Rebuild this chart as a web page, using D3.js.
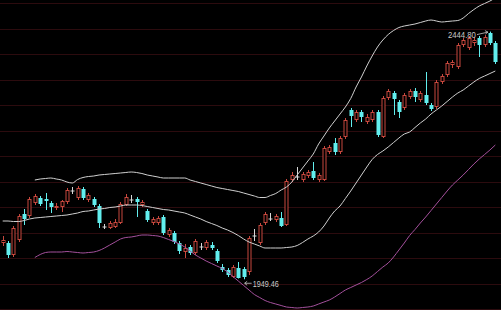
<!DOCTYPE html>
<html>
<head>
<meta charset="utf-8">
<style>
  html, body { margin: 0; padding: 0; background: #000; }
  svg { display: block; }
</style>
</head>
<body>
<svg id="chart" width="501" height="310"></svg>
<script src="https://d3js.org/d3.v7.min.js"></script>
<script>
// daily candles
var open = [2022,2022,1998,2028,2080,2076,2102,2112,2110,2102,
            2092,2094,2104,2127,2112,2130,2108,2110,2096,2055,
            2052,2054,2062,2098,2109,2110,2098,2086,2062,2062,
            2074,2038,2042,2022,2004,2014,2002,2015,2012,2018,
            2006,1974,1968,1954,1972,1970,1964,2037,2022,2062,
            2071,2068,2072,2058,2148,2155,2148,2156,2166,2148,
            2148,2204,2222,2204,2234,2288,2268,2284,2264,2268,
            2284,2234,2312,2322,2304,2292,2314,2326,2308,2318,
            2298,2294,2344,2358,2378,2374,2418,2412,2422,2432,
            2418,2442,2422];
var close = [2028,1998,2052,2076,2070,2110,2116,2100,2106,2094,
             2096,2106,2128,2127,2132,2112,2118,2098,2062,2055,
             2062,2064,2100,2114,2109,2104,2104,2068,2070,2072,
             2042,2048,2024,2006,2012,2002,2026,2015,2024,2012,
             1986,1968,1958,1974,1952,1954,2032,2037,2058,2080,
             2071,2076,2056,2146,2158,2155,2160,2164,2152,2158,
             2212,2214,2204,2232,2268,2276,2284,2274,2274,2284,
             2238,2312,2326,2310,2284,2318,2326,2314,2322,2302,
             2290,2344,2356,2382,2384,2418,2428,2432,2428,2418,
             2434,2422,2384];
var high = [2036,2026,2056,2080,2090,2114,2120,2116,2122,2106,
            2102,2108,2132,2134,2136,2134,2122,2114,2100,2060,
            2066,2070,2104,2120,2118,2114,2108,2090,2074,2076,
            2078,2052,2046,2026,2020,2018,2030,2022,2028,2024,
            2010,1980,1972,1978,1984,1974,2036,2050,2062,2084,
            2082,2080,2084,2150,2164,2174,2164,2168,2184,2162,
            2216,2218,2232,2236,2272,2292,2288,2288,2280,2288,
            2288,2316,2330,2326,2308,2322,2330,2332,2326,2364,
            2302,2348,2360,2386,2388,2422,2432,2436,2434,2436,
            2438,2444.80,2426];
var low = [2016,1992,1994,2024,2058,2072,2098,2096,2088,2082,
           2088,2084,2100,2120,2108,2108,2104,2094,2052,2050,
           2050,2052,2060,2096,2102,2074,2094,2064,2058,2058,
           2038,2034,2020,2000,1992,1998,1998,2008,2008,2008,
           1982,1964,1954,1952,1951,1949.46,1958,2026,2018,2058,
           2066,2064,2054,2056,2144,2148,2144,2152,2148,2144,
           2146,2200,2198,2200,2230,2254,2264,2264,2260,2264,
           2234,2232,2308,2278,2272,2288,2310,2304,2304,2298,
           2286,2290,2340,2354,2372,2370,2414,2408,2416,2394,
           2414,2418,2380];

// bollinger bands
var upper = [null,null,null,null,null,null,2148,2150,2151,2152,
             2150,2148,2144,2142,2149,2153,2155,2156,2158,2159,
             2160,2161,2162,2163,2164,2163,2161,2158,2156,2154,
             2152,2152,2152,2152,2152,2148,2145,2142,2139,2136,
             2133,2131,2129,2127,2125,2122,2119,2116,2113,2113,
             2117,2121,2128,2134,2144,2158,2172,2186,2200,2220,
             2236,2252,2266,2280,2294,2311,2334,2354,2376,2396,
             2414,2428,2439,2447,2453,2456,2458,2460,2463,2466,
             2468,2466,2464,2465,2466,2467,2472,2481,2489,2496,
             2501,2506,2512];
var mid = [2066,2066,2065,2065,2067,2070,2072,2073,2074,2075,
           2076,2077,2078,2080,2082,2085,2086,2088,2090,2091,
           2093,2094,2096,2098,2098,2098,2097,2095,2093,2091,
           2089,2088,2086,2084,2082,2078,2074,2070,2065,2061,
           2057,2052,2048,2043,2037,2030,2024,2020,2016,2012,
           2012,2012,2012,2013,2014,2017,2023,2030,2036,2044,
           2056,2072,2086,2096,2111,2126,2142,2158,2174,2189,
           2199,2206,2214,2223,2232,2240,2244,2253,2262,2270,
           2280,2288,2296,2305,2314,2322,2328,2336,2344,2351,
           2356,2361,2366];
var lower = [null,null,null,null,null,null,1993,1999,2003,2004,
             2004,2004,2005,2004,2003,2002,2003,2004,2007,2012,
             2018,2024,2030,2033,2034,2036,2038,2038,2037,2036,
             2033,2029,2025,2020,2014,2006,1998,1992,1986,1981,
             1976,1971,1964,1955,1946,1937,1928,1919,1913,1907,
             1903,1900,1897,1894,1893,1892,1893,1894,1896,1900,
             1904,1908,1914,1921,1928,1933,1938,1943,1949,1956,
             1965,1974,1982,1994,2008,2022,2037,2049,2062,2074,
             2087,2100,2113,2126,2138,2148,2158,2169,2180,2190,
             2199,2208,2218];

var W = 501, H = 310;
var svg = d3.select("#chart");
svg.append("rect").attr("width", W).attr("height", H).attr("fill", "#000");

var days = d3.range(open.length);
var x = d3.scaleLinear().domain([0, days.length - 1]).range([2.7, 495.3]);
var y = d3.scaleLinear().domain([2508, 1888]).range([0, H]);

// horizontal grid, faint dark red
var gridRows = d3.range(13);
svg.append("g").selectAll("line").data(gridRows).join("line")
    .attr("x1", 0).attr("x2", W)
    .attr("y1", function(k) { return Math.round(3 + k * 25.5) + 0.5; })
    .attr("y2", function(k) { return Math.round(3 + k * 25.5) + 0.5; })
    .attr("stroke", "#2c0b0e");

var red = "#c8483e", cyan = "#62eeee", doji = "#d8d8d8";

function col(i) {
    if (open[i] == close[i]) return doji;
    return close[i] > open[i] ? red : cyan;
}

var g = svg.append("g");
// wicks
g.selectAll("line.wick").data(days).join("line")
    .attr("class", "wick")
    .attr("x1", function(i) { return Math.round(x(i)) + 0.5; })
    .attr("x2", function(i) { return Math.round(x(i)) + 0.5; })
    .attr("y1", function(i) { return y(high[i]); })
    .attr("y2", function(i) { return y(low[i]); })
    .attr("stroke", col);

// bodies: hollow red for up days, filled cyan for down days
g.selectAll("rect.body").data(days).join("rect")
    .attr("class", "body")
    .attr("x", function(i) { return Math.round(x(i)) - 1.5 + (close[i] > open[i] ? 0.5 : 0); })
    .attr("width", function(i) { return close[i] > open[i] ? 3 : 4; })
    .attr("y", function(i) {
        var t = y(Math.max(open[i], close[i]));
        return close[i] > open[i] ? t + 0.5 : t;
    })
    .attr("height", function(i) {
        var h = Math.abs(y(open[i]) - y(close[i]));
        if (open[i] == close[i]) return 1;
        return close[i] > open[i] ? Math.max(h - 1, 1) : Math.max(h, 1);
    })
    .attr("fill", function(i) { return close[i] > open[i] ? "#000" : col(i); })
    .attr("stroke", function(i) { return close[i] > open[i] ? red : "none"; })
    .attr("stroke-width", 1);

// bands
function bandLine(arr) {
    return d3.line()
        .defined(function(i) { return arr[i] != null; })
        .x(function(i) { return x(i); })
        .y(function(i) { return y(arr[i]); })
        .curve(d3.curveMonotoneX)(days);
}
svg.append("path").attr("d", bandLine(upper)).attr("fill", "none").attr("stroke", "#cfcfcf").attr("stroke-width", 1);
svg.append("path").attr("d", bandLine(mid)).attr("fill", "none").attr("stroke", "#cfcfcf").attr("stroke-width", 1);
svg.append("path").attr("d", bandLine(lower)).attr("fill", "none").attr("stroke", "#a4509c").attr("stroke-width", 1);

// high / low labels
var iLo = d3.minIndex(low), iHi = d3.maxIndex(high);
var lx = x(iLo), ly = y(low[iLo]) + 4;
svg.append("path")
    .attr("d", "M" + (lx + 1) + "," + ly + "H" + (lx + 8) + "M" + (lx + 3.5) + "," + (ly - 2) + "L" + (lx + 1) + "," + ly + "L" + (lx + 3.5) + "," + (ly + 2))
    .attr("fill", "none").attr("stroke", "#c8c8c8").attr("stroke-width", 0.8);
svg.append("text")
    .attr("x", lx + 9).attr("y", ly + 3.5)
    .attr("font-family", "Liberation Sans, Arial, sans-serif")
    .attr("font-size", 9)
    .attr("textLength", 26).attr("lengthAdjust", "spacingAndGlyphs")
    .attr("fill", "#c8c8c8")
    .text(d3.format(".2f")(low[iLo]));

var hx = x(iHi), hy = y(high[iHi]);
svg.append("path")
    .attr("d", "M" + (hx - 13) + "," + (hy + 3) + "L" + (hx - 2) + "," + (hy + 0.5) + "M" + (hx - 5) + "," + (hy - 1) + "L" + (hx - 2) + "," + (hy + 0.5) + "L" + (hx - 4.5) + "," + (hy + 2.5))
    .attr("fill", "none").attr("stroke", "#c8c8c8").attr("stroke-width", 0.8);
svg.append("text")
    .attr("x", hx - 14).attr("y", hy + 6.5)
    .attr("text-anchor", "end")
    .attr("font-family", "Liberation Sans, Arial, sans-serif")
    .attr("font-size", 9)
    .attr("textLength", 28).attr("lengthAdjust", "spacingAndGlyphs")
    .attr("fill", "#c8c8c8")
    .text(d3.format(".2f")(high[iHi]));
</script>
</body>
</html>
